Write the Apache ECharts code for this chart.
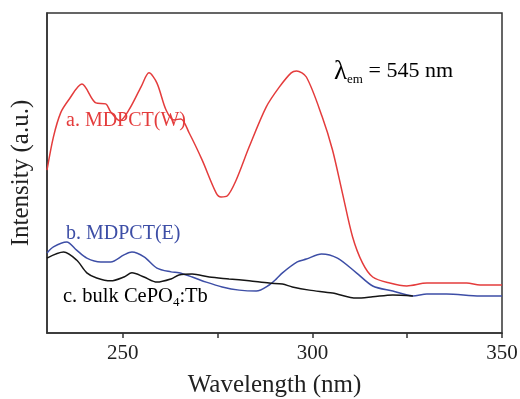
<!DOCTYPE html>
<html>
<head>
<meta charset="utf-8">
<script src="https://cdn.jsdelivr.net/npm/echarts@6/dist/echarts.min.js"></script>
<style>html,body{margin:0;padding:0;background:#fff}#c{width:520px;height:399px}</style>
</head>
<body>
<div id="c"></div>
<script>
// Wavelength (nm) and intensity (a.u., 0-100 scale)
const wlW = [230, 231.7, 233.6, 235.7, 239.2, 242.9, 245.5, 246.8, 249.2, 251.6, 254.8, 256.9, 259.0, 261.4, 263.5, 265.3, 267.5, 270.9, 274.6, 275.9, 277.5, 279.9, 283.3, 287.8, 291.3, 294.4, 295.8, 298.4, 302.6, 305.3, 307.9, 310.6, 313.2, 315.9, 320.4, 324.9, 330.2, 335.4, 340.7, 344.2, 350];
const intW = [50.9, 61.3, 68.8, 72.8, 77.8, 71.9, 71.6, 69.1, 66.3, 69.7, 76.9, 81.3, 78.1, 69.7, 66.6, 66.9, 62.5, 54.1, 43.8, 42.5, 42.8, 47.8, 58.1, 70.6, 76.9, 81.3, 81.9, 80.0, 67.5, 57.2, 43.8, 30.0, 21.9, 17.5, 15.6, 14.7, 15.6, 15.6, 15.6, 15.0, 15.0];

const wlE = [230, 231.7, 235.2, 237.8, 240.5, 244.2, 246.8, 250.3, 252.4, 255.6, 259.0, 262.7, 264.8, 268.3, 272.0, 276.2, 280.7, 285.2, 288.6, 290.5, 292.1, 296.0, 298.4, 302.4, 306.6, 311.6, 315.9, 321.2, 326.5, 330.2, 335.4, 344.2, 350];
const intE = [25.0, 26.9, 28.4, 25.9, 23.4, 22.2, 22.2, 24.4, 25.3, 23.8, 20.3, 19.1, 18.8, 17.5, 15.9, 14.4, 13.4, 13.1, 15.0, 16.9, 18.8, 22.2, 23.1, 24.7, 23.4, 18.8, 14.7, 13.1, 11.6, 12.2, 12.2, 11.6, 11.6];

const wlB = [230, 234.4, 237.8, 240.5, 243.1, 246.8, 250.3, 252.4, 255.6, 259.0, 262.7, 264.8, 268.3, 272.8, 278.0, 283.3, 288.6, 292.1, 294.7, 299.2, 305.3, 311.6, 315.9, 321.2, 326.5];
const intB = [23.4, 25.3, 22.8, 18.8, 17.2, 16.3, 17.5, 18.8, 17.5, 15.9, 16.9, 18.1, 18.4, 17.5, 16.9, 16.3, 15.6, 15.3, 14.4, 13.4, 12.5, 10.9, 11.3, 11.9, 11.6];

const xTicks = [250, 275, 300, 325, 350];
const xLabels = [250, 300, 350];

const pairs = (xs, ys) => xs.map((x, i) => [x, ys[i]]);
const FONT = '"Liberation Serif", "DejaVu Serif", serif';
const RED = '#e43c3c', BLUE = '#3d4ea6', BLACK = '#151515';

const chart = echarts.init(document.getElementById('c'));
chart.setOption({
  animation: false,
  grid: { left: 47, right: 18, top: 13, bottom: 66, outerBoundsMode: 'none', containLabel: false, show: true, borderColor: '#333', borderWidth: 1.5, backgroundColor: 'transparent' },
  xAxis: {
    type: 'value', min: 230, max: 350, interval: 5,
    name: 'Wavelength (nm)', nameLocation: 'middle', nameGap: 40,
    nameTextStyle: { fontFamily: FONT, fontSize: 25, color: '#222' },
    axisLine: { lineStyle: { color: '#333', width: 1.5 } },
    axisTick: { show: true, length: 5, inside: false, customValues: xTicks, lineStyle: { color: '#333', width: 1.5 } },
    axisLabel: { customValues: xLabels, fontFamily: FONT, fontSize: 21, color: '#222', margin: 10 },
    splitLine: { show: false }
  },
  yAxis: {
    type: 'value', min: 0, max: 100,
    name: 'Intensity (a.u.)', nameLocation: 'middle', nameGap: 13,
    nameTextStyle: { fontFamily: FONT, fontSize: 25, color: '#222' },
    axisLine: { show: true, lineStyle: { color: '#333', width: 1.5 } },
    axisTick: { show: false }, axisLabel: { show: false }, splitLine: { show: false }
  },
  series: [
    { type: 'line', data: pairs(wlW, intW), smooth: 0.3, showSymbol: false, lineStyle: { color: RED, width: 1.5 } },
    { type: 'line', data: pairs(wlE, intE), smooth: 0.3, showSymbol: false, lineStyle: { color: BLUE, width: 1.5 } },
    { type: 'line', data: pairs(wlB, intB), smooth: 0.3, showSymbol: false, lineStyle: { color: BLACK, width: 1.5 } }
  ],
  graphic: [
    { type: 'text', left: 66, top: 111, style: { text: 'a. MDPCT(W)', fontFamily: FONT, fontSize: 20, fill: RED } },
    { type: 'text', left: 66, top: 224, style: { text: 'b. MDPCT(E)', fontFamily: FONT, fontSize: 20, fill: BLUE } },
    { type: 'text', left: 63, top: 286, style: {
        text: '{n|c. bulk CePO}{s|4}{n|:Tb}',
        rich: { n: { fontFamily: FONT, fontSize: 20.5, color: BLACK }, s: { fontFamily: FONT, fontSize: 13, color: BLACK, padding: [13, 0, 0, 0] } }
      } },
    { type: 'text', left: 334, top: 58, style: {
        text: '{l|λ}{s|em}{n| = 545 nm}',
        rich: { l: { fontFamily: FONT, fontSize: 27, color: '#222' }, s: { fontFamily: FONT, fontSize: 13, color: '#222', padding: [16, 0, 0, 0] }, n: { fontFamily: FONT, fontSize: 22, color: '#222' } }
      } }
  ]
});
</script>
</body>
</html>
